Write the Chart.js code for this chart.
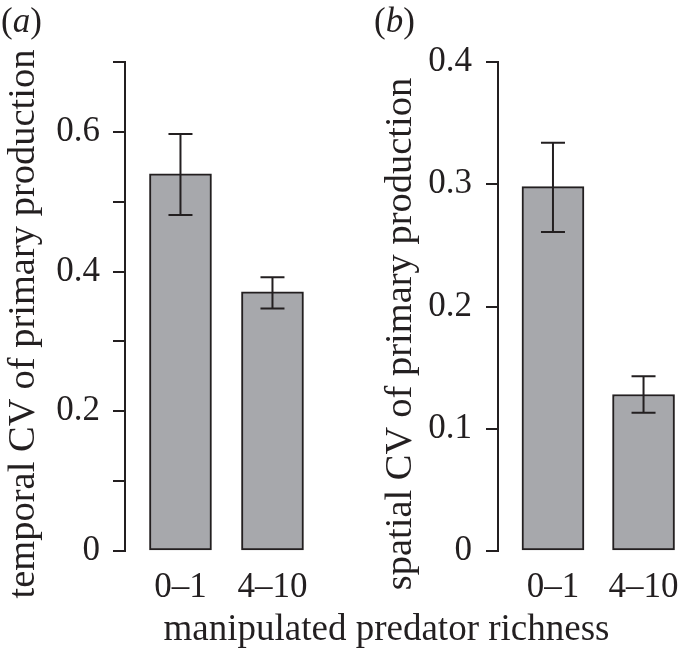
<!DOCTYPE html>
<html>
<head>
<meta charset="utf-8">
<script src="https://cdn.jsdelivr.net/npm/chart.js@4.4.0/dist/chart.umd.min.js"></script>
<style>
  body { margin: 0; background: #fff; }
  #wrap { position: relative; width: 688px; height: 657px; font-family: "Liberation Serif", serif; color: #231f20; }
  canvas { position: absolute; top: 0; }
  .txt { position: absolute; white-space: nowrap; line-height: 1; }
  .ytitle { font-size: 38.5px; transform: translate(-50%, -50%) rotate(-90deg); }
</style>
</head>
<body>
<div id="wrap">
  <canvas id="chartA" width="344" height="657" style="left:0"></canvas>
  <canvas id="chartB" width="344" height="657" style="left:344px"></canvas>
  <div class="txt" style="left:1px; top:3px; font-size:35px">(<i>a</i>)</div>
  <div class="txt" style="left:374px; top:3px; font-size:35px">(<i>b</i>)</div>
  <div class="txt ytitle" style="left:21px; top:324px">temporal CV of primary production</div>
  <div class="txt ytitle" style="left:398px; top:334px">spatial CV of primary production</div>
  <div class="txt" style="left:386.5px; top:609px; font-size:37px; transform:translateX(-50%)">manipulated predator richness</div>
</div>
<script>
// predator richness groups
const groups = ["0–1", "4–10"];

// (a) temporal CV
const temporalMean = [0.540, 0.371];
const temporalLow = [0.481, 0.347];
const temporalHigh = [0.597, 0.392];
const temporalLabelled = [0, 0.2, 0.4, 0.6];

// (b) spatial CV
const spatialMean = [0.298, 0.128];
const spatialLow = [0.261, 0.113];
const spatialHigh = [0.334, 0.143];
const spatialLabelled = [0, 0.1, 0.2, 0.3, 0.4];

const ink = "#231f20";
const barGrey = "#a7a8ac";

// whiskers drawn through the chart's own scales
const errorBars = {
    id: "errorBars",
    afterDatasetsDraw(chart, args, opts) {
        const { ctx, scales: { x, y } } = chart;
        ctx.save();
        ctx.strokeStyle = ink;
        ctx.lineWidth = 2;
        opts.low.forEach((lo, i) => {
            const px = x.getPixelForValue(i + 1);
            const yl = y.getPixelForValue(lo);
            const yh = y.getPixelForValue(opts.high[i]);
            ctx.beginPath();
            ctx.moveTo(px, yl); ctx.lineTo(px, yh);
            ctx.moveTo(px - 12, yl); ctx.lineTo(px + 12, yl);
            ctx.moveTo(px - 12, yh); ctx.lineTo(px + 12, yh);
            ctx.stroke();
        });
        ctx.restore();
    }
};

function makePanel(id, means, low, high, yMax, labelled, axisWidth, xMin, xMax, pxPerUnit, labelPad) {
    const areaWidth = (xMax - xMin) * pxPerUnit;
    return new Chart(document.getElementById(id), {
        type: "bar",
        data: {
            datasets: [{
                data: means.map((v, i) => ({ x: i + 1, y: v })),
                backgroundColor: barGrey,
                borderColor: ink,
                borderWidth: 2,
                borderSkipped: false,
                barThickness: 62
            }]
        },
        options: {
            responsive: false,
            animation: false,
            devicePixelRatio: 1,
            layout: { padding: { top: 62, right: 344 - axisWidth - areaWidth, bottom: 0, left: 0 } },
            plugins: {
                legend: { display: false },
                tooltip: { enabled: false },
                errorBars: { low: low, high: high }
            },
            scales: {
                x: {
                    type: "linear",
                    offset: false,
                    min: xMin,
                    max: xMax,
                    afterBuildTicks: s => { s.ticks = groups.map((g, i) => ({ value: i + 1 })); },
                    afterFit: s => { s.height = 106; },
                    ticks: {
                        callback: v => groups[v - 1],
                        color: ink,
                        padding: 8,
                        maxRotation: 0,
                        font: { family: "Liberation Serif", size: 35 }
                    },
                    grid: { display: false },
                    border: { display: false }
                },
                y: {
                    min: 0,
                    max: yMax,
                    afterFit: s => { s.width = axisWidth; },
                    ticks: {
                        stepSize: 0.1,
                        color: ink,
                        padding: labelPad,
                        font: { family: "Liberation Serif", size: 35 },
                        callback: v => {
                            const r = Math.round(v * 10) / 10;
                            if (!labelled.includes(r)) return "";
                            return r === 0 ? "0" : r.toFixed(1);
                        }
                    },
                    grid: { drawOnChartArea: false, drawTicks: true, tickLength: 12, tickColor: ink, lineWidth: 2 },
                    border: { display: true, color: ink, width: 2 }
                }
            }
        },
        plugins: [errorBars]
    });
}

makePanel("chartA", temporalMean, temporalLow, temporalHigh, 0.7, temporalLabelled, 125, 0.397, 2.5, 92, 13);
makePanel("chartB", spatialMean, spatialLow, spatialHigh, 0.4, spatialLabelled, 154, 0.393, 2.4, 91, 14);
</script>
</body>
</html>
